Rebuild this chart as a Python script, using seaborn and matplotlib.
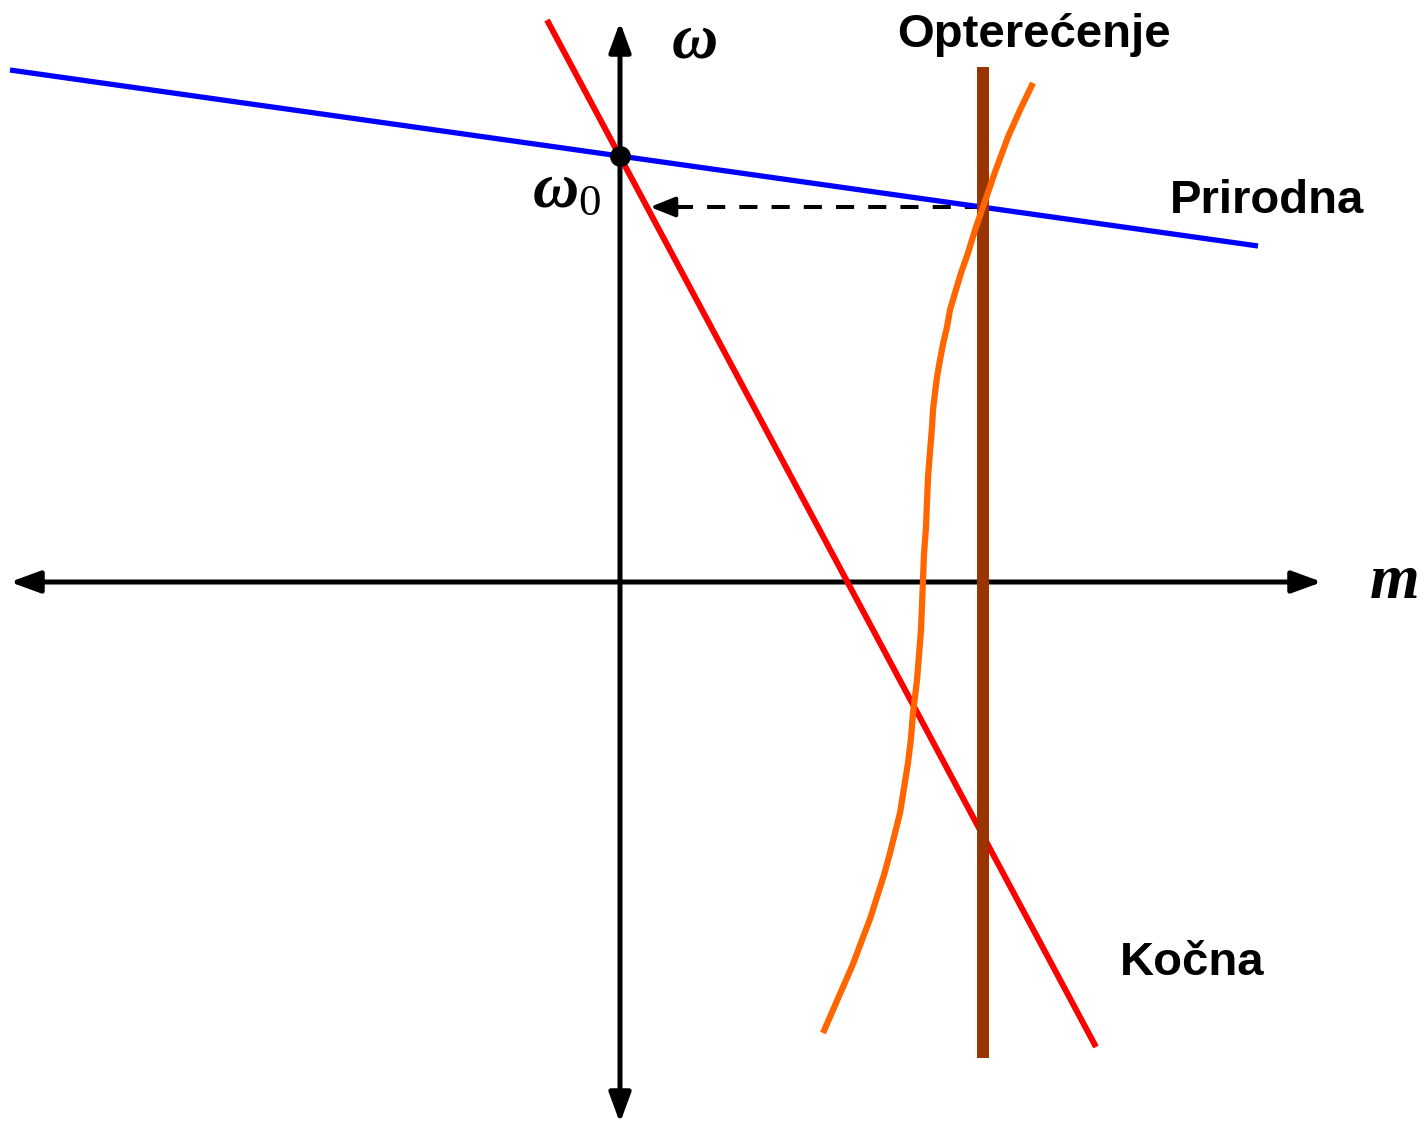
import matplotlib
matplotlib.use("Agg")
import matplotlib.pyplot as plt
import seaborn as sns
import pandas as pd

# characteristics in (m, omega) units, origin at the axis crossing
prirodna_m = [-6.10, 6.38]
prirodna_w = [5.12, 3.36]

kocna_m = [-0.73, 4.76]
kocna_w = [5.62, -4.65]

opt_m = [3.63, 3.63]
opt_w = [5.15, -4.76]

# S-shaped load curve
krivulja_m = [4.13, 4.00, 3.88, 3.75, 3.63, 3.55, 3.48, 3.41, 3.35, 3.30, 3.27,
              3.23, 3.20, 3.17, 3.15, 3.13, 3.12, 3.10, 3.08, 3.07, 3.06,
              3.04, 3.03, 3.02, 3.01, 2.99, 2.97, 2.95, 2.93, 2.91, 2.88,
              2.84, 2.80, 2.75, 2.70, 2.64, 2.57, 2.50, 2.42, 2.33, 2.23,
              2.13, 2.03]
krivulja_w = [4.99, 4.72, 4.45, 4.10, 3.75, 3.52, 3.29, 3.09, 2.89, 2.72, 2.55,
              2.38, 2.22, 2.05, 1.89, 1.72, 1.55, 1.30, 1.05, 0.80, 0.55,
              0.28, 0.02, -0.23, -0.48, -0.73, -0.98, -1.15, -1.31, -1.56, -1.81,
              -2.06, -2.31, -2.51, -2.71, -2.93, -3.15, -3.37, -3.58, -3.82, -4.05,
              -4.28, -4.51]

w0 = 4.26
radna_w = 3.75

sns.set_theme(style="white")
plt.rcParams["text.color"] = "black"
plt.rcParams["mathtext.fontset"] = "custom"
plt.rcParams["mathtext.it"] = "Liberation Serif:italic:bold"
plt.rcParams["mathtext.rm"] = "Liberation Serif"

fig = plt.figure(figsize=(14.25, 11.25), dpi=100)
ax = fig.add_axes([0, 0, 1, 1])
ax.set_xlim(-6.20, 8.05)
ax.set_ylim(-5.43, 5.82)
ax.axis("off")

# axes with arrows
ax.annotate("", xy=(7.02, 0), xytext=(-6.10, 0), annotation_clip=False,
            arrowprops=dict(arrowstyle="<|-|>,head_length=0.9,head_width=0.33",
                            mutation_scale=20, lw=3.6, color="black",
                            shrinkA=0, shrinkB=0), zorder=1)
ax.annotate("", xy=(0, 5.60), xytext=(0, -5.41), annotation_clip=False,
            arrowprops=dict(arrowstyle="<|-|>,head_length=0.9,head_width=0.33",
                            mutation_scale=20, lw=3.6, color="black",
                            shrinkA=0, shrinkB=0), zorder=1)

# dashed projection to the omega axis
ax.plot([3.63, 0.42], [radna_w, radna_w], color="black", lw=2.9,
        dashes=(4.5, 3.5), zorder=2)
ax.annotate("", xy=(0.30, radna_w), xytext=(0.45, radna_w),
            arrowprops=dict(arrowstyle="-|>,head_length=0.75,head_width=0.3",
                            mutation_scale=20, lw=2.9, color="black",
                            shrinkA=0, shrinkB=0), zorder=2)

sns.lineplot(x=prirodna_m, y=prirodna_w, ax=ax, color="#0000FF", lw=3.8,
             sort=False, estimator=None, solid_capstyle="butt", zorder=3)
sns.lineplot(x=kocna_m, y=kocna_w, ax=ax, color="#FF0000", lw=4.3,
             sort=False, estimator=None, solid_capstyle="butt", zorder=4)
sns.lineplot(x=opt_m, y=opt_w, ax=ax, color="#993300", lw=8.6,
             sort=False, estimator=None, solid_capstyle="butt", zorder=5)
sns.lineplot(x=krivulja_m, y=krivulja_w, ax=ax, color="#FF6600", lw=4.5,
             sort=False, estimator=None, solid_capstyle="butt",
             solid_joinstyle="round", zorder=6)

ax.plot([0], [w0], "o", color="black", ms=14, zorder=7)

serif = dict(family="Liberation Serif", style="italic", weight="bold", color="black")
ax.text(0.52, 5.25, "ω", fontsize=46, ha="left", va="baseline", **serif)
ax.text(-0.88, 3.75, r"$\omega_0$", fontsize=46, ha="left", va="baseline",
        color="black")
ax.text(7.50, -0.16, "m", fontsize=46, ha="left", va="baseline", **serif)

sans = dict(family="Liberation Sans", weight="bold", fontsize=34, color="black")
ax.text(2.77, 5.35, "Opterećenje", ha="left", va="baseline", **sans)
ax.text(5.50, 3.69, "Prirodna", ha="left", va="baseline", **sans)
ax.text(5.00, -3.93, "Kočna", ha="left", va="baseline", **sans)

fig.savefig("out.png", dpi=100)
